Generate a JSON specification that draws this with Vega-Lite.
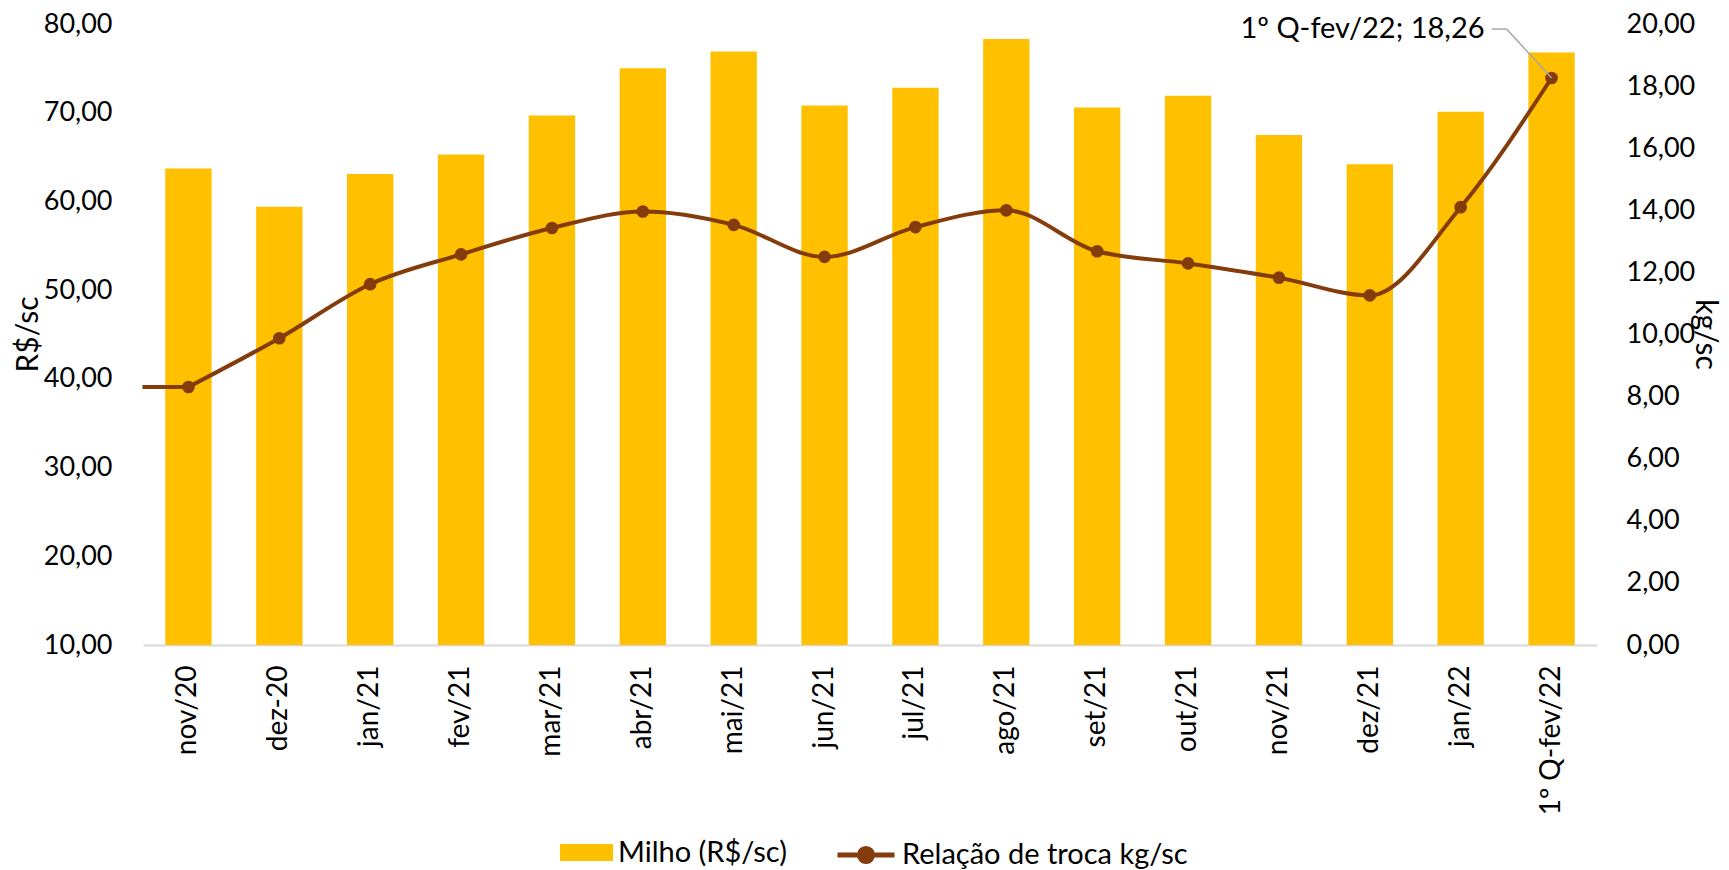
{
  "$schema": "https://vega.github.io/schema/vega-lite/v6.json",
  "width": 1454,
  "height": 621,
  "autosize": {"type": "none"},
  "padding": {"left": 143, "top": 24, "right": 132, "bottom": 225},
  "config": {
    "locale": {"number": {"decimal": ",", "thousands": ".", "grouping": [3], "currency": ["R$", ""]}},
    "view": {"stroke": null},
    "font": "Lato",
    "axis": {"labelFont": "Lato", "titleFont": "Lato", "labelColor": "#000000", "titleColor": "#000000", "labelFontSize": 27, "titleFontSize": 30, "titleFontWeight": "normal", "ticks": false, "grid": false, "labelOverlap": false, "labelFlush": false},
    "legend": {"labelFont": "Lato", "labelFontSize": 29, "labelColor": "#000000", "padding": 0, "labelLimit": 500}
  },
  "data": {
    "values": [
      {"mes": "nov/20", "milho": 63.7, "rel": 8.31},
      {"mes": "dez-20", "milho": 59.4, "rel": 9.88},
      {"mes": "jan/21", "milho": 63.1, "rel": 11.62},
      {"mes": "fev/21", "milho": 65.3, "rel": 12.58},
      {"mes": "mar/21", "milho": 69.7, "rel": 13.43},
      {"mes": "abr/21", "milho": 75.0, "rel": 13.96},
      {"mes": "mai/21", "milho": 76.9, "rel": 13.53},
      {"mes": "jun/21", "milho": 70.8, "rel": 12.50},
      {"mes": "jul/21", "milho": 72.8, "rel": 13.46},
      {"mes": "ago/21", "milho": 78.3, "rel": 14.00},
      {"mes": "set/21", "milho": 70.6, "rel": 12.68},
      {"mes": "out/21", "milho": 71.9, "rel": 12.29},
      {"mes": "nov/21", "milho": 67.5, "rel": 11.83},
      {"mes": "dez/21", "milho": 64.2, "rel": 11.26},
      {"mes": "jan/22", "milho": 70.1, "rel": 14.10},
      {"mes": "1º Q-fev/22", "milho": 76.8, "rel": 18.26, "label": "1º Q-fev/22; 18,26"}
    ]
  },
  "encoding": {
    "x": {
      "field": "mes", "type": "nominal", "sort": null,
      "scale": {"paddingInner": 0.49, "paddingOuter": 0.245},
      "axis": {"title": null, "labelAngle": -90, "labelPadding": 20, "labelFontSize": 28, "domainColor": "#D9D9D9", "domainWidth": 2}
    }
  },
  "layer": [
    {
      "mark": {"type": "bar"},
      "encoding": {
        "y": {
          "field": "milho", "type": "quantitative",
          "scale": {"domain": [10, 80], "zero": false, "nice": false},
          "axis": {"title": "R$/sc", "orient": "left", "format": ".2f", "values": [10, 20, 30, 40, 50, 60, 70, 80], "labelPadding": 31, "domain": false, "titleX": -106, "titleY": 310, "titleAngle": -90, "titleBaseline": "alphabetic", "titleAlign": "center"}
        },
        "y2": {"datum": 10},
        "fill": {
          "datum": "Milho (R$/sc)",
          "scale": {"range": ["#FFC000"]},
          "legend": {"title": null, "orient": "none", "legendX": 417, "legendY": 802, "symbolType": "M-1,-0.32H1V0.32H-1Z", "symbolSize": 2809, "symbolStrokeWidth": 0, "labelOffset": 5}
        }
      }
    },
    {
      "encoding": {
        "y": {
          "field": "rel", "type": "quantitative",
          "scale": {"domain": [0, 20], "nice": false},
          "axis": {"title": "kg/sc", "orient": "right", "format": ".2f", "values": [0, 2, 4, 6, 8, 10, 12, 14, 16, 18, 20], "labelPadding": 29, "domain": false, "titleAngle": 90, "titleX": 98, "titleY": 310, "titleBaseline": "alphabetic", "titleAlign": "center"}
        }
      },
      "layer": [
        {
          "transform": [{"filter": "datum.mes === 'nov/20'"}],
          "mark": {"type": "rule", "color": "#843C0C", "strokeWidth": 4, "x2Offset": -46},
          "encoding": {"x2": {"field": "mes"}, "y2": {"field": "rel"}}
        },
        {
          "mark": {"type": "line", "interpolate": "monotone", "strokeWidth": 4},
          "encoding": {
            "stroke": {
              "datum": "Relação de troca kg/sc",
              "scale": {"range": ["#843C0C"]},
              "legend": {"title": null, "orient": "none", "legendX": 692, "legendY": 800, "symbolType": "M-1,0H1M-0.23,0A0.23,0.23 0 1,0 0.23,0A0.23,0.23 0 1,0 -0.23,0", "symbolSize": 3249, "symbolStrokeWidth": 5, "symbolFillColor": "#843C0C", "labelOffset": 5}
            }
          }
        },
        {
          "mark": {"type": "point", "filled": true, "opacity": 1, "size": 160, "color": "#843C0C"}
        },
        {
          "transform": [{"filter": "datum.label != null"}],
          "mark": {"type": "rule", "color": "#A6A6A6", "strokeWidth": 1.5, "x2Offset": -45, "y2Offset": -49},
          "encoding": {"x2": {"field": "mes"}, "y2": {"field": "rel"}}
        },
        {
          "transform": [{"filter": "datum.label != null"}],
          "mark": {"type": "rule", "color": "#A6A6A6", "strokeWidth": 1.5, "xOffset": -45, "yOffset": -49, "x2Offset": -60, "y2Offset": -49},
          "encoding": {"x2": {"field": "mes"}, "y2": {"field": "rel"}}
        },
        {
          "transform": [{"filter": "datum.label != null"}],
          "mark": {"type": "text", "align": "right", "baseline": "middle", "dx": -67, "dy": -49, "fontSize": 29, "font": "Lato", "color": "#000000"},
          "encoding": {"text": {"field": "label"}}
        }
      ]
    }
  ],
  "resolve": {"scale": {"y": "independent"}}
}
